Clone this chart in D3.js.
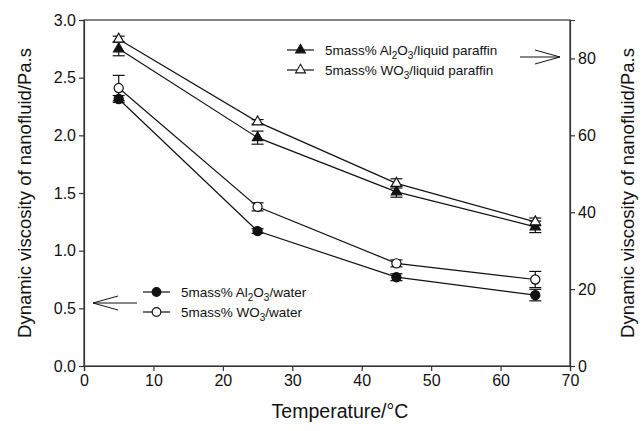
<!DOCTYPE html>
<html><head><meta charset="utf-8">
<script src="https://cdn.jsdelivr.net/npm/d3@7/dist/d3.min.js"></script>
<style>body{margin:0;background:#fff}svg{display:block}text{font-family:"Liberation Sans",Arial,sans-serif;fill:#111}</style>
</head><body><svg id="c" width="643" height="431"></svg>
<script>
const temps = [5, 25, 45, 65];
const al2o3Water = [2.315, 1.17, 0.77, 0.615];
const al2o3WaterErr = [0.03, 0.02, 0.03, 0.05];
const wo3Water = [2.41, 1.38, 0.89, 0.75];
const wo3WaterErr = [0.11, 0.035, 0.03, 0.07];
const al2o3Paraffin = [82.5, 59.4, 45.3, 36.2];
const al2o3ParaffinErr = [1.8, 1.7, 1.4, 1.5];
const wo3Paraffin = [85.0, 63.5, 47.5, 37.5];
const wo3ParaffinErr = [0.8, 0.6, 1.2, 1.0];
const xTicks = [0, 10, 20, 30, 40, 50, 60, 70];
const yLeftTicks = [0, 0.5, 1.0, 1.5, 2.0, 2.5, 3.0];
const yRightTicks = [0, 20, 40, 60, 80];

const svg = d3.select("#c");
const L = 84, R = 570, T = 20, B = 366;
const x = d3.scaleLinear().domain([0, 70]).range([L, R]);
const yL = d3.scaleLinear().domain([0, 3]).range([B, T]);
const yR = d3.scaleLinear().domain([0, 90]).range([B, T]);

const axCol = "#333";
svg.append("rect").attr("x", L).attr("y", T).attr("width", R - L).attr("height", B - T)
  .attr("fill", "none").attr("stroke", axCol).attr("stroke-width", 1.2);

const fmt = d3.format(".1f");
const gx = svg.append("g").attr("transform", `translate(0,${B})`)
  .call(d3.axisBottom(x).tickValues(xTicks).tickSize(5).tickPadding(4).tickFormat(d3.format("d")));
const gl = svg.append("g").attr("transform", `translate(${L},0)`)
  .call(d3.axisLeft(yL).tickValues(yLeftTicks).tickSize(5).tickPadding(3).tickFormat(fmt));
const gr = svg.append("g").attr("transform", `translate(${R},0)`)
  .call(d3.axisRight(yR).tickValues(yRightTicks).tickSize(5).tickPadding(3).tickFormat(d3.format("d")));
[gx, gl, gr].forEach(g => {
  g.select(".domain").attr("stroke", axCol).attr("stroke-width", 1.2);
  g.selectAll(".tick line").attr("stroke", axCol).attr("stroke-width", 1.2);
  g.selectAll(".tick text").attr("font-size", 16).attr("font-family", '"Liberation Sans",Arial,sans-serif').attr("fill", "#111");
});

svg.append("text").attr("x", 340).attr("y", 418).attr("text-anchor", "middle").attr("font-size", 19.5).text("Temperature/\u00B0C");
svg.append("text").attr("transform", `translate(31,${(T + B) / 2}) rotate(-90)`).attr("text-anchor", "middle")
  .attr("font-size", 18.5).text("Dynamic viscosity of nanofluid/Pa.s");
svg.append("text").attr("transform", `translate(634,${(T + B) / 2}) rotate(-90)`).attr("text-anchor", "middle")
  .attr("font-size", 18.5).text("Dynamic viscosity of nanofluid/Pa.s");

const series = [
  { v: al2o3Water, e: al2o3WaterErr, y: yL, shape: "circle", fill: "#111" },
  { v: wo3Water, e: wo3WaterErr, y: yL, shape: "circle", fill: "#fff" },
  { v: al2o3Paraffin, e: al2o3ParaffinErr, y: yR, shape: "triangle", fill: "#111" },
  { v: wo3Paraffin, e: wo3ParaffinErr, y: yR, shape: "triangle", fill: "#fff" }
];
const line = yS => d3.line().x((d, i) => x(temps[i])).y(d => yS(d));
const sym = (shape) => d3.symbol().type(shape === "circle" ? d3.symbolCircle : d3.symbolTriangle).size(shape === "circle" ? 66 : 46)();

series.forEach(s => {
  svg.append("path").attr("d", line(s.y)(s.v)).attr("fill", "none").attr("stroke", "#111").attr("stroke-width", 1.2);
  const g = svg.append("g");
  s.v.forEach((v, i) => {
    const cx = x(temps[i]);
    const y1 = s.y(v + s.e[i]), y2 = s.y(v - s.e[i]);
    g.append("line").attr("x1", cx).attr("x2", cx).attr("y1", y1).attr("y2", y2).attr("stroke", "#111").attr("stroke-width", 1.2);
    [y1, y2].forEach(yy => g.append("line").attr("x1", cx - 6).attr("x2", cx + 6).attr("y1", yy).attr("y2", yy).attr("stroke", "#111").attr("stroke-width", 1.2));
    g.append("path").attr("d", sym(s.shape)).attr("transform", `translate(${cx},${s.y(v)})`)
      .attr("fill", s.fill).attr("stroke", "#111").attr("stroke-width", 1.2);
  });
});

function legendRow(lx, ly, shape, fill, parts) {
  svg.append("line").attr("x1", lx).attr("x2", lx + 27).attr("y1", ly).attr("y2", ly).attr("stroke", "#111").attr("stroke-width", 1.2);
  svg.append("path").attr("d", d3.symbol().type(shape === "circle" ? d3.symbolCircle : d3.symbolTriangle).size(shape === "circle" ? 60 : 42)())
    .attr("transform", `translate(${lx + 13.5},${ly})`).attr("fill", fill).attr("stroke", "#111").attr("stroke-width", 1.1);
  const t = svg.append("text").attr("x", lx + 38).attr("y", ly + 5).attr("font-size", 13.5);
  parts.forEach(p => {
    const ts = t.append("tspan").text(p.t);
    if (p.sub) ts.attr("font-size", 10).attr("dy", 4); else if (p.after) ts.attr("dy", -4);
  });
}
legendRow(287, 50, "triangle", "#111", [{ t: "5mass% Al" }, { t: "2", sub: true }, { t: "O", after: true }, { t: "3", sub: true }, { t: "/liquid paraffin", after: true }]);
legendRow(287, 70, "triangle", "#fff", [{ t: "5mass% WO" }, { t: "3", sub: true }, { t: "/liquid paraffin", after: true }]);
legendRow(143, 292, "circle", "#111", [{ t: "5mass% Al" }, { t: "2", sub: true }, { t: "O", after: true }, { t: "3", sub: true }, { t: "/water", after: true }]);
legendRow(143, 312, "circle", "#fff", [{ t: "5mass% WO" }, { t: "3", sub: true }, { t: "/water", after: true }]);

function arrow(x1, x2, yy) {
  const dir = Math.sign(x2 - x1);
  svg.append("path").attr("d", `M${x1},${yy}L${x2},${yy}M${x2 - dir * 25},${yy - 7}L${x2},${yy}L${x2 - dir * 25},${yy + 7}`)
    .attr("fill", "none").attr("stroke", "#111").attr("stroke-width", 1);
}
arrow(520, 560, 57);
arrow(137, 93, 303);
</script></body></html>
